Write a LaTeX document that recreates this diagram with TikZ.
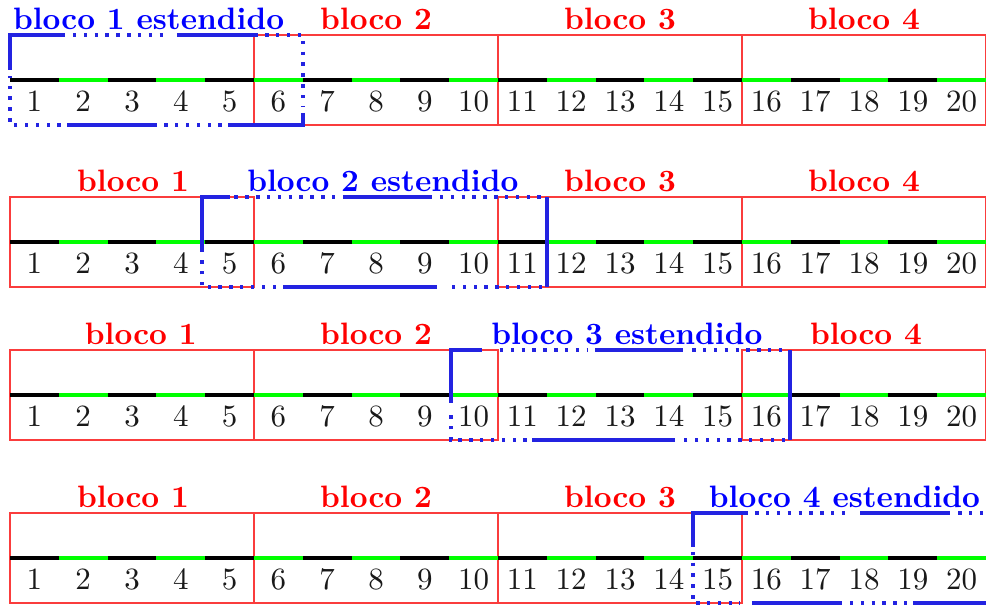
\documentclass[tikz,border=0pt]{standalone}

\definecolor{extblue}{RGB}{35,35,225}
\definecolor{blockred}{RGB}{250,60,60}
\definecolor{segreen}{RGB}{0,255,0}
\def\rowh{1.844}

\tikzset{
  blockbox/.style={draw=blockred, line width=0.65pt},
  seg/.style={line width=1.3pt},
  extline/.style={extblue, line width=1.3pt},
  extdots/.style={extblue, line width=1.3pt, dash pattern=on 1.1pt off 2.4pt},
  numlbl/.style={text=black!90, anchor=base, inner sep=0pt},
  blklbl/.style={text=red, font=\bfseries, anchor=base, inner sep=0pt},
  extlbl/.style={text=blue, font=\bfseries, anchor=base, inner sep=0pt}
}

\begin{document}
\begin{tikzpicture}[x=0.554cm, y=0.554cm]
  \useasboundingbox (-0.205,-12.459) rectangle (20,0);
  % the four rows: red blocks, black/green line, cell numbers
  \foreach \r/\yb/\ext in {1/-2.561/1, 2/-5.881/2, 3/-9.016/3, 4/-12.357/4} {
    \begin{scope}[shift={(0,\yb)}]
      \foreach \b in {1,...,4} {
        \ifnum\b=\ext\relax\else
          \draw[blockbox] ({5*\b-5},0) rectangle ({5*\b},\rowh);
        \fi
      }
      \foreach \i in {0,2,...,18} { \draw[seg, black] (\i,0.922) -- ++(1,0); }
      \foreach \i in {1,3,...,19} { \draw[seg, segreen] (\i,0.922) -- ++(1,0); }
      \foreach \i in {1,...,20} { \node[numlbl] (n\r-\i) at (\i-0.5,0.28) {\i}; }
    \end{scope}
  }

  % row 1
  \begin{scope}[shift={(0,-2.561)}]
    \draw[extline] (0,1.13) -- (0,\rowh) -- (1.13,\rowh);
    \draw[extdots] (1.29,\rowh) -- (3.28,\rowh);
    \draw[extline] (3.42,\rowh) -- (5.08,\rowh);
    \draw[extdots] (5.23,\rowh) -- (6,\rowh) -- (6,0.37);
    \draw[extline] (6,0.246) -- (6,0) -- (4.47,0);
    \draw[extdots] (4.34,0) -- (3.13,0);
    \draw[extline] (3.01,0) -- (1.17,0);
    \draw[extdots] (1.04,0) -- (0,0) -- (0,1.0);
    \node[extlbl] (lbl1-1) at (2.84,1.964) {bloco 1 estendido};
    \node[blklbl] (lbl1-2) at (7.5,1.964) {bloco 2};
    \node[blklbl] (lbl1-3) at (12.5,1.964) {bloco 3};
    \node[blklbl] (lbl1-4) at (17.5,1.964) {bloco 4};
  \end{scope}

  % row 2
  \begin{scope}[shift={(0,-5.881)}]
    \draw[extline] (3.93,0.72) -- (3.93,\rowh) -- (4.51,\rowh);
    \draw[extdots] (4.6,\rowh) -- (6.66,\rowh);
    \draw[extline] (6.82,\rowh) -- (8.65,\rowh);
    \draw[extdots] (8.81,\rowh) -- (10.9,\rowh);
    \draw[extline] (11,\rowh) -- (11,0);
    \draw[extdots] (10.9,0) -- (8.91,0);
    \draw[extline] (8.75,0) -- (5.59,0);
    \draw[extdots] (5.45,0) -- (3.93,0) -- (3.93,0.6);
    \node[blklbl] (lbl2-1) at (2.52,1.964) {bloco 1};
    \node[extlbl] (lbl2-2) at (7.64,1.964) {bloco 2 estendido};
    \node[blklbl] (lbl2-3) at (12.5,1.964) {bloco 3};
    \node[blklbl] (lbl2-4) at (17.5,1.964) {bloco 4};
  \end{scope}

  % row 3
  \begin{scope}[shift={(0,-9.016)}]
    \draw[extline] (9.03,0.76) -- (9.03,\rowh) -- (9.67,\rowh);
    \draw[extdots] (10.04,\rowh) -- (11.84,\rowh);
    \draw[extline] (11.99,\rowh) -- (13.79,\rowh);
    \draw[extdots] (13.98,\rowh) -- (15.9,\rowh);
    \draw[extline] (15.98,\rowh) -- (15.98,0);
    \draw[extdots] (15.88,0) -- (13.79,0);
    \draw[extline] (13.63,0) -- (10.70,0);
    \draw[extdots] (10.59,0) -- (9.03,0) -- (9.03,0.65);
    \node[blklbl] (lbl3-1) at (2.68,1.964) {bloco 1};
    \node[blklbl] (lbl3-2) at (7.5,1.964) {bloco 2};
    \node[extlbl] (lbl3-3) at (12.64,1.964) {bloco 3 estendido};
    \node[blklbl] (lbl3-4) at (17.54,1.964) {bloco 4};
  \end{scope}

  % row 4
  \begin{scope}[shift={(0,-12.357)}]
    \draw[extline] (14,1.15) -- (14,\rowh) -- (15.12,\rowh);
    \draw[extdots] (15.27,\rowh) -- (17.11,\rowh);
    \draw[extline] (17.42,\rowh) -- (19.26,\rowh);
    \draw[extdots] (19.43,\rowh) -- (20.3,\rowh);
    \draw[extdots] (14,1.05) -- (14,0) -- (14.96,0);
    \draw[extline] (15.2,0) -- (17.05,0);
    \draw[extdots] (17.21,0) -- (18.38,0);
    \draw[extline] (18.5,0) -- (20.3,0);
    \node[blklbl] (lbl4-1) at (2.52,1.964) {bloco 1};
    \node[blklbl] (lbl4-2) at (7.5,1.964) {bloco 2};
    \node[blklbl] (lbl4-3) at (12.5,1.964) {bloco 3};
    \node[extlbl] (lbl4-4) at (17.1,1.964) {bloco 4 estendido};
  \end{scope}
\end{tikzpicture}
\end{document}
